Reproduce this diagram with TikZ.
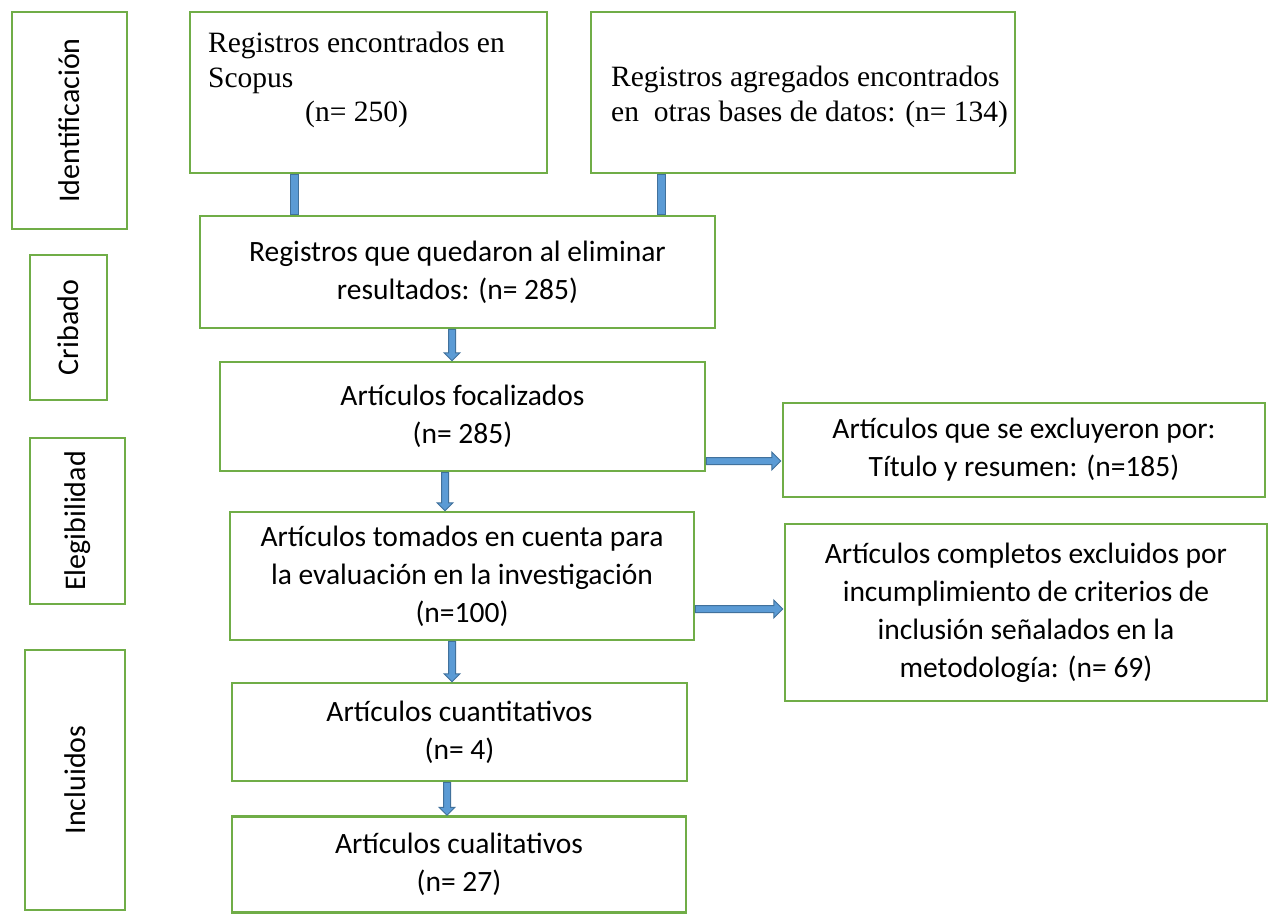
\documentclass[tikz,border=0pt]{standalone}
\usepackage{fontspec}
\setmainfont{Liberation Serif}
\newfontfamily\calibri{Carlito}
\usetikzlibrary{calc}
\definecolor{boxgreen}{HTML}{70AD47}
\definecolor{arrfillc}{HTML}{5B9BD5}
\definecolor{arrdrawc}{HTML}{41719C}
\tikzset{
  box/.style={draw=boxgreen, line width=2.5pt, rectangle, inner sep=0pt},
  ctext/.style={font=\calibri\fontsize{29.5}{38}\selectfont, align=center},
  stext/.style={font=\fontsize{29.5}{34.5}\selectfont, align=left, anchor=north west, inner sep=0pt},
  vtext/.style={font=\calibri\fontsize{30}{34}\selectfont, rotate=90},
  arrshape/.style={fill=arrfillc, draw=arrdrawc, line width=1pt},
}
\newcommand\barconn[3]{\path let \p1=(#2.south), \p2=(#3.north) in [arrshape] ({#1pt-4pt},\y1) rectangle ({#1pt+4pt},\y2);}
\newcommand\downarr[3]{\path let \p1=(#2.south), \p2=(#3.north) in [arrshape] ({#1pt-3.5pt},\y1) -- ({#1pt+3.5pt},\y1) -- ({#1pt+3.5pt},{\y2+8pt}) -- ({#1pt+8pt},{\y2+8pt}) -- (#1pt,\y2) -- ({#1pt-8pt},{\y2+8pt}) -- ({#1pt-3.5pt},{\y2+8pt}) -- cycle;}
\newcommand\rightarr[3]{\path let \p1=(#2.east), \p2=(#3.west) in [arrshape] (\x1,{-#1pt+3.5pt}) -- (\x1,{-#1pt-3.5pt}) -- ({\x2-10pt},{-#1pt-3.5pt}) -- ({\x2-10pt},{-#1pt-9pt}) -- ({\x2-1pt},-#1pt) -- ({\x2-10pt},{-#1pt+9pt}) -- ({\x2-10pt},{-#1pt+3.5pt}) -- cycle;}
\begin{document}
\begin{tikzpicture}[x=1pt,y=-1pt]
\useasboundingbox[fill=white] (0,0) rectangle (1271,913);
% stage labels
\node[box, minimum width=115pt, minimum height=217pt] (ident) at (69.5,120.5) {};
\node[vtext] (identt) at (ident.center) {Identificación};
\node[box, minimum width=77pt, minimum height=145pt] (crib) at (68.5,327.5) {};
\node[vtext] (cribt) at (crib.center) {Cribado};
\node[box, minimum width=95pt, minimum height=166pt] (eleg) at (77.5,521) {};
\node[vtext] (elegt) at (eleg.center) {Elegibilidad};
\node[box, minimum width=100pt, minimum height=260pt] (incl) at (75,780) {};
\node[vtext] (inclt) at (incl.center) {Incluidos};
% top boxes
\node[box, minimum width=357pt, minimum height=161pt] (scop) at (368.5,92.5) {};
\node[stext] (scopt) at (208,32) {Registros encontrados en\\Scopus\\\hspace*{97pt}(n= 250)};
\node[box, minimum width=424pt, minimum height=161pt] (otras) at (803,92.5) {};
\node[stext] (otrast) at (611,66) {Registros agregados encontrados\\en\ \ otras bases de datos: (n= 134)};
% main flow
\node[box, ctext, minimum width=515pt, minimum height=112pt] (reg) at (457.5,272) {Registros que quedaron al eliminar\\resultados: (n= 285)};
\node[box, ctext, minimum width=485pt, minimum height=109pt] (foc) at (462.5,416.5) {Artículos focalizados\\(n= 285)};
\node[box, ctext, minimum width=482pt, minimum height=94pt] (exc1) at (1024,450) {Artículos que se excluyeron por:\\Título y resumen: (n=185)};
\node[box, ctext, minimum width=464pt, minimum height=128pt] (tom) at (462,576) {Artículos tomados en cuenta para\\la evaluación en la investigación\\(n=100)};
\node[box, ctext, minimum width=482pt, minimum height=177pt] (exc2) at (1026,612.5) {Artículos completos excluidos por\\incumplimiento de criterios de\\inclusión señalados en la\\metodología: (n= 69)};
\node[box, ctext, minimum width=455pt, minimum height=98pt] (cuant) at (459.5,732) {Artículos cuantitativos\\(n= 4)};
\node[box, ctext, minimum width=454pt, minimum height=96pt] (cual) at (459,864.5) {Artículos cualitativos\\(n= 27)};
% connectors
\barconn{294}{scop}{reg}
\barconn{661}{otras}{reg}
\downarr{452}{reg}{foc}
\downarr{445}{foc}{tom}
\downarr{452}{tom}{cuant}
\downarr{447}{cuant}{cual}
\rightarr{461}{foc}{exc1}
\rightarr{609}{tom}{exc2}
\end{tikzpicture}
\end{document}
